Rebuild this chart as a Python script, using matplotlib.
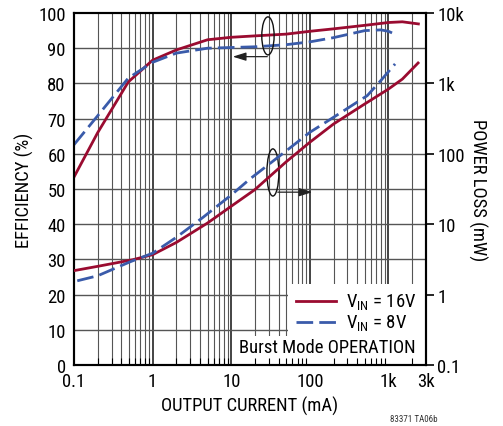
import matplotlib
matplotlib.use("Agg")
import matplotlib.pyplot as plt
import matplotlib.font_manager as fm
from matplotlib.patches import Ellipse, Polygon
from matplotlib.ticker import FixedLocator, NullLocator, FixedFormatter

names = {f.name for f in fm.fontManager.ttflist}
fam = None
for cand in ["Liberation Sans Narrow", "Roboto Condensed", "Open Sans Condensed", "Liberation Sans"]:
    if cand in names:
        fam = cand
        break
plt.rcParams['font.family'] = [fam, 'DejaVu Sans']
plt.rcParams['mathtext.fontset'] = 'custom'
plt.rcParams['mathtext.rm'] = fam
plt.rcParams['mathtext.it'] = fam

# ---- data ----
red_eff_x = [0.1, 0.2, 0.49, 1, 2, 5, 10, 20, 50, 100, 200, 500, 1000, 1500, 2400]
red_eff_y = [53.4, 66.0, 80.4, 86.6, 89.5, 92.4, 93.1, 93.5, 94.0, 94.8, 95.5, 96.5, 97.3, 97.5, 96.9]
blue_eff_x = [0.1, 0.2, 0.49, 1, 2, 5, 10, 20, 50, 100, 200, 500, 800, 1000, 1200]
blue_eff_y = [62.6, 70.8, 81.5, 86.0, 88.6, 90.0, 90.2, 90.4, 91.0, 91.8, 93.0, 95.0, 95.2, 94.8, 94.0]

red_loss_x = [0.1, 0.2, 0.56, 1, 2, 5, 10, 20, 50, 100, 200, 475, 1000, 1500, 2380]
red_loss_y = [2.19, 2.52, 3.13, 3.69, 5.5, 10.4, 18.0, 31.0, 77.0, 146, 265, 493, 832, 1150, 1950]
blue_loss_x = [0.11, 0.2, 0.52, 1, 2, 4.37, 10, 17.3, 50, 100, 200, 537, 800, 1213]
blue_loss_y = [1.57, 1.85, 2.93, 3.87, 6.5, 12.5, 26.0, 43.9, 110, 202, 330, 670, 1100, 1890]

x_ticks = [0.1, 1, 10, 100, 1000, 3000]
x_labels = ["0.1", "1", "10", "100", "1k", "3k"]
eff_ticks = list(range(0, 101, 10))
loss_ticks = [0.1, 1, 10, 100, 1000, 10000]
loss_labels = ["0.1", "1", "10", "100", "1k", "10k"]

RED = "#9A0B30"
BLUE = "#3A5BAA"
FS = 13.4

fig = plt.figure(figsize=(5.03, 4.27), dpi=100)
ax = fig.add_axes([74/503, 61/427, 352/503, 352/427])
ax.set_xscale('log')
ax.set_xlim(0.1, 3000)
ax.set_ylim(0, 100)

# grid (manual, below the legend box)
grid_x = []
for d in [0.1, 1, 10, 100, 1000]:
    for k in range(1, 10):
        v = d * k
        if 0.1 < v < 3000:
            grid_x.append(v)
for v in grid_x:
    major = v in (1, 10, 100, 1000)
    ax.axvline(v, color="#111111" if major else "#555555", lw=1.1 if major else 0.8, zorder=0.5)
for v in eff_ticks[1:-1]:
    ax.axhline(v, color="#555555", lw=1.0, zorder=0.5)

# white legend box (L-shaped)
box = Polygon([(0.608, 0.0), (1.0, 0.0), (1.0, 0.230), (0.608, 0.230), (0.608, 0.082),
               (0.449, 0.082), (0.449, 0.0)], closed=True, transform=ax.transAxes,
              facecolor="white", edgecolor="none", zorder=1)
ax.add_patch(box)

ax.plot(red_eff_x, red_eff_y, color=RED, lw=2.0, zorder=3)
ax.plot(blue_eff_x, blue_eff_y, color=BLUE, lw=2.0, dashes=(6, 2.2), zorder=3)

ax.set_yticks(eff_ticks)
ax.tick_params(axis='y', which='both', length=0, labelsize=FS, pad=6)
ax.xaxis.set_major_locator(FixedLocator(x_ticks))
ax.xaxis.set_major_formatter(FixedFormatter(x_labels))
ax.xaxis.set_minor_locator(FixedLocator(grid_x))
ax.tick_params(axis='x', which='both', direction='in', length=5, width=0.8, labelsize=FS, pad=5)
ax.tick_params(axis='x', which='major', length=0)
for s in ax.spines.values():
    s.set_linewidth(1.5)

ax.set_xlabel("OUTPUT CURRENT (mA)", fontsize=FS, labelpad=4)
ax.set_ylabel("EFFICIENCY (%)", fontsize=FS, labelpad=3)

ax2 = ax.twinx()
ax2.set_yscale('log')
ax2.set_ylim(0.1, 10000)
ax2.plot(red_loss_x, red_loss_y, color=RED, lw=2.0, zorder=3)
ax2.plot(blue_loss_x, blue_loss_y, color=BLUE, lw=2.0, dashes=(6, 2.2), zorder=3)
ax2.yaxis.set_major_locator(FixedLocator(loss_ticks))
ax2.yaxis.set_major_formatter(FixedFormatter(loss_labels))
ax2.yaxis.set_minor_locator(NullLocator())
ax2.tick_params(axis='y', which='major', direction='out', length=6, width=1.2, labelsize=FS, pad=2)
for s in ax2.spines.values():
    s.set_linewidth(1.5)
ax2.set_ylabel("POWER LOSS (mW)", fontsize=FS, rotation=270, labelpad=16)

# legend keys and text
ax.plot([0.631, 0.744], [0.182, 0.182], transform=ax.transAxes, color=RED, lw=2.0, zorder=4)
ax.plot([0.631, 0.744], [0.122, 0.122], transform=ax.transAxes, color=BLUE, lw=2.0, dashes=(6, 2.2), zorder=4)
ax.text(0.773, 0.182, r"V$_{\mathregular{IN}}$ = 16V", transform=ax.transAxes, fontsize=FS, va='center', ha='left', zorder=4)
ax.text(0.773, 0.122, r"V$_{\mathregular{IN}}$ = 8V", transform=ax.transAxes, fontsize=FS, va='center', ha='left', zorder=4)
ax.text(0.719, 0.052, "Burst Mode OPERATION", transform=ax.transAxes, fontsize=FS, va='center', ha='center', zorder=4)

# ellipses and arrows
ax.add_patch(Ellipse((0.551, 0.935), 0.035, 0.108, transform=ax.transAxes, fill=False, lw=1.0, ec="#111111", zorder=4))
ax.add_patch(Ellipse((0.565, 0.547), 0.034, 0.134, transform=ax.transAxes, fill=False, lw=1.0, ec="#111111", zorder=4))
ax.annotate("", xy=(0.443, 0.876), xytext=(0.557, 0.876), xycoords=ax.transAxes, textcoords=ax.transAxes,
            arrowprops=dict(arrowstyle="-|>,head_length=0.8,head_width=0.25", color="#222222", lw=0.9), zorder=4)
ax.annotate("", xy=(0.685, 0.491), xytext=(0.571, 0.491), xycoords=ax.transAxes, textcoords=ax.transAxes,
            arrowprops=dict(arrowstyle="-|>,head_length=0.8,head_width=0.25", color="#222222", lw=0.9), zorder=4)

fig.text(390/503, 1 - 420/427, "83371 TA06b", fontsize=6.5, color="#333333", ha='left', va='center')

fig.savefig("out.png", dpi=100)
